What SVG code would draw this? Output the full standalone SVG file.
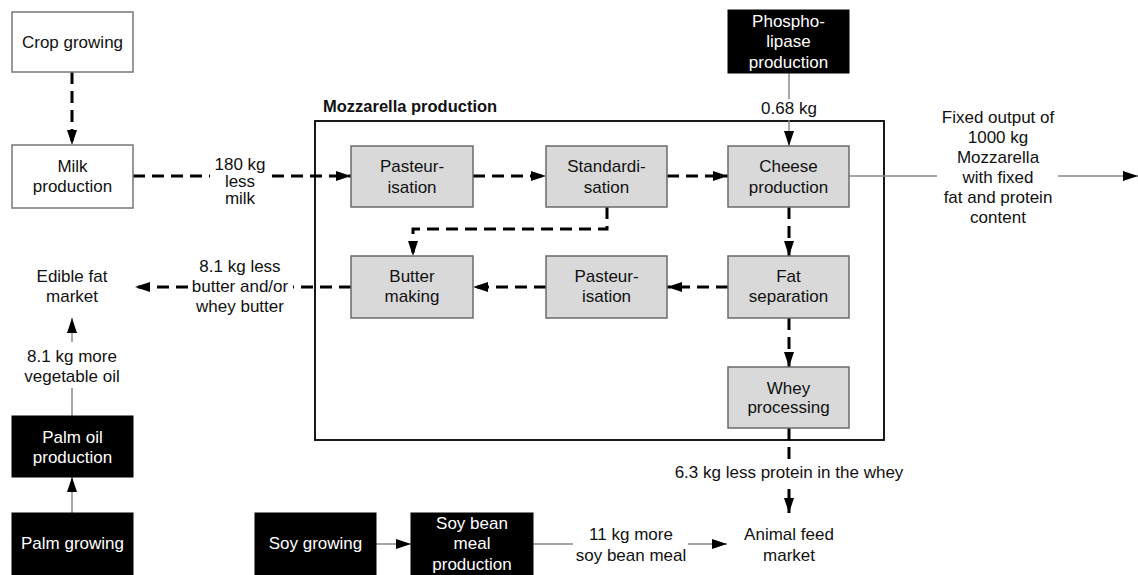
<svg xmlns="http://www.w3.org/2000/svg" width="1138" height="575" viewBox="0 0 1138 575">
<style>
text{font-family:"Liberation Sans",Arial,sans-serif;font-size:17px;fill:#111;text-anchor:middle}
.w{fill:#fff}
.title{font-weight:bold;font-size:16.5px;text-anchor:start}
.wbox{fill:#fff;stroke:#777;stroke-width:1.5}
.gbox{fill:#d9d9d9;stroke:#6a6a6a;stroke-width:1.5}
.bbox{fill:#000;stroke:#000}
.dash{fill:none;stroke:#000;stroke-width:3;stroke-dasharray:12 7}
.thin{fill:none;stroke:#888;stroke-width:1.5}
.ah{marker-end:url(#arr)}
</style>
<defs>
<marker id="arr" markerUnits="userSpaceOnUse" viewBox="0 0 15 10" markerWidth="15" markerHeight="10" refX="15" refY="5" orient="auto">
<path d="M0,0 L15,5 L0,10 z" fill="#000"/>
</marker>
</defs>
<rect width="1138" height="575" fill="#fff"/>
<g id="mozzarella-frame">
<rect x="315" y="121" width="569" height="319" fill="none" stroke="#000" stroke-width="1.8"/>
<text class="title" x="323" y="112">Mozzarella production</text>
</g>
<g id="connectors">
<line class="dash ah" x1="72" y1="72" x2="72" y2="145"/>
<line class="dash" x1="133" y1="176" x2="210" y2="176"/>
<line class="dash ah" x1="272" y1="176" x2="351" y2="176"/>
<line class="dash ah" x1="473" y1="176" x2="546" y2="176"/>
<line class="dash ah" x1="667" y1="176" x2="728" y2="176"/>
<path class="dash ah" d="M607,207 V229 H413 V256"/>
<line class="dash ah" x1="789" y1="207" x2="789" y2="256"/>
<line class="dash ah" x1="728" y1="287" x2="667" y2="287"/>
<line class="dash ah" x1="546" y1="287" x2="473" y2="287"/>
<line class="dash" x1="351" y1="287" x2="293" y2="287"/>
<line class="dash ah" x1="188" y1="287" x2="135" y2="287"/>
<line class="dash ah" x1="789" y1="318" x2="789" y2="367"/>
<line class="dash" x1="789" y1="428" x2="789" y2="460"/>
<line class="dash ah" x1="789" y1="489" x2="789" y2="513"/>
<line class="thin" x1="789" y1="73" x2="789" y2="99"/>
<line class="thin ah" x1="789" y1="120" x2="789" y2="146"/>
<line class="thin" x1="849" y1="176" x2="937" y2="176"/>
<line class="thin ah" x1="1058" y1="176" x2="1138" y2="176"/>
<line class="thin ah" x1="72" y1="513" x2="72" y2="477"/>
<line class="thin" x1="72" y1="416" x2="72" y2="388"/>
<line class="thin ah" x1="72" y1="342" x2="72" y2="318"/>
<line class="thin ah" x1="376" y1="544" x2="411" y2="544"/>
<line class="thin" x1="533" y1="544" x2="573" y2="544"/>
<line class="thin ah" x1="688" y1="544" x2="727" y2="544"/>
<text x="240" y="170">180 kg</text>
<text x="240" y="187">less</text>
<text x="240" y="204">milk</text>
<text x="789" y="114">0.68 kg</text>
<text x="998" y="123">Fixed output of</text>
<text x="998" y="143">1000 kg</text>
<text x="998" y="163">Mozzarella</text>
<text x="998" y="183">with fixed</text>
<text x="998" y="203">fat and protein</text>
<text x="998" y="223">content</text>
<text x="240" y="272">8.1 kg less</text>
<text x="240" y="292">butter and/or</text>
<text x="240" y="312">whey butter</text>
<text x="789" y="478">6.3 kg less protein in the whey</text>
<text x="72" y="362">8.1 kg more</text>
<text x="72" y="382">vegetable oil</text>
<text x="631" y="540">11 kg more</text>
<text x="631" y="561">soy bean meal</text>
</g>
<g id="crop-growing"><rect class="wbox" x="12" y="12" width="121" height="60"/><text x="72.5" y="48">Crop growing</text></g>
<g id="milk-production"><rect class="wbox" x="12" y="145" width="121" height="63"/><text x="72.5" y="172">Milk</text><text x="72.5" y="192">production</text></g>
<g id="pasteurisation-1"><rect class="gbox" x="351" y="146" width="122" height="61"/><text x="412" y="172">Pasteur-</text><text x="412" y="193">isation</text></g>
<g id="standardisation"><rect class="gbox" x="546" y="146" width="121" height="61"/><text x="606.5" y="172">Standardi-</text><text x="606.5" y="193">sation</text></g>
<g id="cheese-production"><rect class="gbox" x="728" y="146" width="121" height="61"/><text x="788.5" y="172">Cheese</text><text x="788.5" y="193">production</text></g>
<g id="butter-making"><rect class="gbox" x="351" y="256" width="122" height="62"/><text x="412" y="282">Butter</text><text x="412" y="302">making</text></g>
<g id="pasteurisation-2"><rect class="gbox" x="546" y="256" width="121" height="62"/><text x="606.5" y="282">Pasteur-</text><text x="606.5" y="302">isation</text></g>
<g id="fat-separation"><rect class="gbox" x="728" y="256" width="121" height="62"/><text x="788.5" y="282">Fat</text><text x="788.5" y="302">separation</text></g>
<g id="whey-processing"><rect class="gbox" x="728" y="367" width="121" height="61"/><text x="788.5" y="394">Whey</text><text x="788.5" y="413">processing</text></g>
<g id="phospholipase-production"><rect class="bbox" x="728" y="10" width="121" height="63"/><text class="w" x="788.5" y="27">Phospho-</text><text class="w" x="788.5" y="47">lipase</text><text class="w" x="788.5" y="68">production</text></g>
<g id="edible-fat-market"><text x="72" y="282">Edible fat</text><text x="72" y="302">market</text></g>
<g id="palm-oil-production"><rect class="bbox" x="12" y="416" width="121" height="61"/><text class="w" x="72.5" y="443">Palm oil</text><text class="w" x="72.5" y="463">production</text></g>
<g id="palm-growing"><rect class="bbox" x="12" y="513" width="121" height="64"/><text class="w" x="72.5" y="549">Palm growing</text></g>
<g id="soy-growing"><rect class="bbox" x="255" y="513" width="121" height="64"/><text class="w" x="315.5" y="549">Soy growing</text></g>
<g id="soy-bean-meal-production"><rect class="bbox" x="411" y="513" width="122" height="64"/><text class="w" x="472" y="529">Soy bean</text><text class="w" x="472" y="549">meal</text><text class="w" x="472" y="570">production</text></g>
<g id="animal-feed-market"><text x="789" y="540">Animal feed</text><text x="789" y="561">market</text></g>
</svg>
